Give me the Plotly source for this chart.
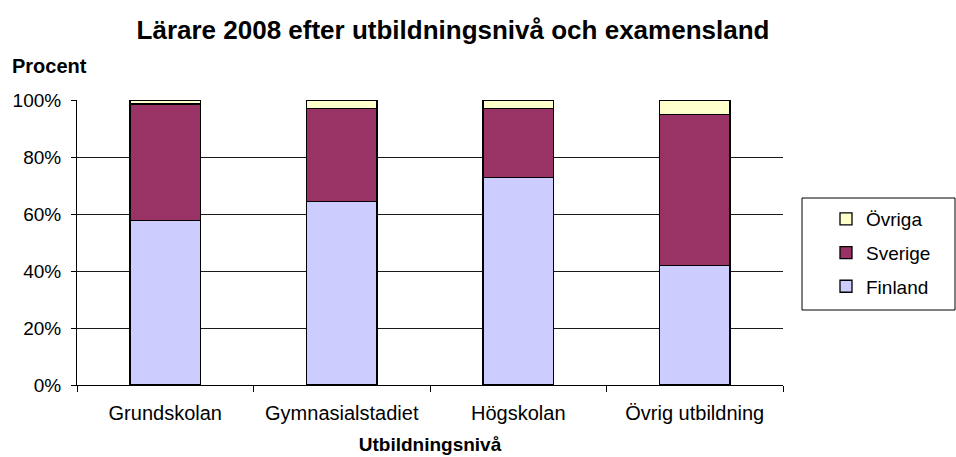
import plotly.graph_objects as go

categories = ["Grundskolan", "Gymnasialstadiet", "Högskolan", "Övrig utbildning"]
finland = [57.6, 64.3, 72.8, 42.0]
sverige = [41.0, 32.6, 24.1, 52.8]
ovriga = [1.4, 3.1, 3.1, 5.2]
y_ticks = [0, 20, 40, 60, 80, 100]
y_tick_labels = ["0%", "20%", "40%", "60%", "80%", "100%"]

FONT = "Liberation Sans, Arial, sans-serif"

fig = go.Figure()
series = [("Finland", finland, "#CCCCFF", 3), ("Sverige", sverige, "#993366", 2), ("Övriga", ovriga, "#FFFFCC", 1)]
for name, vals, col, rank in series:
    fig.add_trace(go.Bar(
        x=categories, y=vals, name=name, legendgroup=name, legendrank=rank,
        marker=dict(color=col, line=dict(color="#000000", width=1.3)),
    ))

W, H = 956, 457
L, R, T, B = 77, 173, 100, 72
pw = W - L - R
ph = H - T - B

def px_x(x):
    return (x - L) / pw

def px_y(y):
    return (H - B - y) / ph

fig.update_layout(
    width=W, height=H,
    barmode="stack", bargap=0.6,
    plot_bgcolor="white", paper_bgcolor="white",
    margin=dict(l=L, r=R, t=T, b=B, autoexpand=False),
    font=dict(family=FONT, color="#000000", size=19),
    title=dict(text="<b>Lärare 2008 efter utbildningsnivå och examensland</b>",
               x=453 / W, xanchor="center", y=1 - 30 / H, yanchor="middle",
               font=dict(size=26, family=FONT, color="#000000")),
    showlegend=True,
    legend=dict(
        x=px_x(826), xanchor="left", y=px_y(200), yanchor="top",
        borderwidth=0, bgcolor="rgba(0,0,0,0)",
        traceorder="grouped", tracegroupgap=6,
        font=dict(size=19, family=FONT),
    ),
    xaxis=dict(
        type="category", showline=True, linecolor="#000000", linewidth=1,
        ticks="outside", ticklen=6, tickcolor="#000000", tickson="boundaries",
        showgrid=False, tickfont=dict(size=20), ticklabelstandoff=10,
        title=dict(text="<b>Utbildningsnivå</b>", font=dict(size=19), standoff=14),
    ),
    yaxis=dict(
        range=[0, 100], tickvals=y_ticks, ticktext=y_tick_labels,
        showline=True, linecolor="#000000", linewidth=1,
        ticks="outside", ticklen=5, tickcolor="#000000",
        showgrid=True, gridcolor="#1a1a1a", gridwidth=1,
        zeroline=False, tickfont=dict(size=19), ticklabelstandoff=6,
    ),
    shapes=[dict(
        type="rect", xref="paper", yref="paper",
        x0=px_x(802), x1=px_x(955), y0=px_y(310), y1=px_y(198),
        line=dict(color="#000000", width=1), fillcolor="rgba(0,0,0,0)", layer="above",
    )],
    annotations=[dict(
        text="<b>Procent</b>", xref="paper", yref="paper",
        x=px_x(10), xanchor="left", y=px_y(66), yanchor="middle",
        showarrow=False, font=dict(size=20, family=FONT, color="#000000"),
    )],
)

fig.write_html(
    "out.html",
    config={"displayModeBar": False},
    post_script="document.body.style.margin='0';document.body.style.overflow='hidden';",
)
